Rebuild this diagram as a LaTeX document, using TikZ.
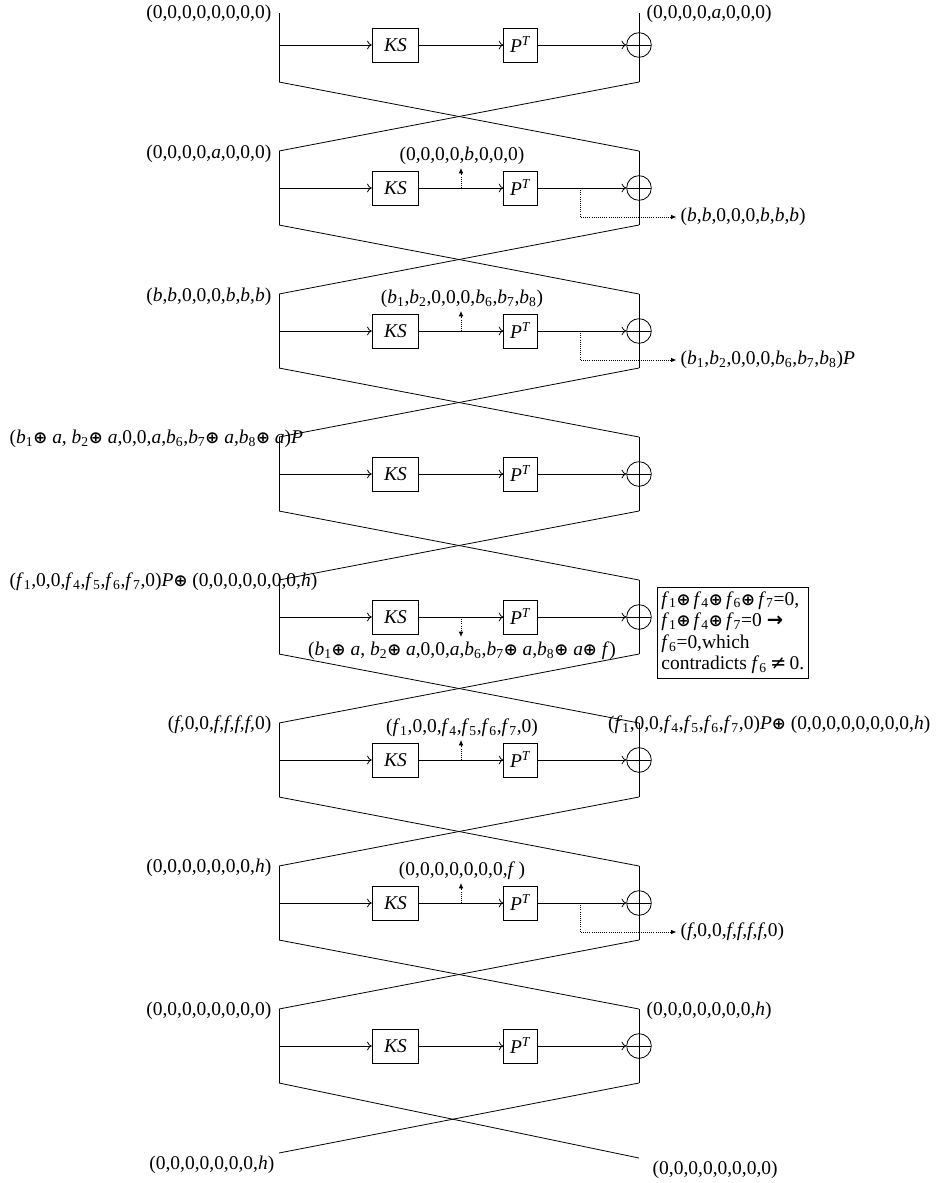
\documentclass[tikz,border=0pt]{standalone}
\usepackage{fontspec}
\setmainfont{Liberation Serif}
\newfontfamily\dvsfont{DejaVu Sans}
\usetikzlibrary{arrows.meta}

% italic variable with a subscript index
\newcommand\vsub[2]{\textit{#1}\textsubscript{#2}}
% italic variable
\newcommand\vi[1]{\textit{#1}}
% xor sign
\newcommand\xorop{{\dvsfont\bfseries\fontsize{12.5}{12.5}\selectfont ⊕}}

\begin{document}
\begin{tikzpicture}[x=0.75pt,y=-0.75pt,line width=0.6pt,
  every node/.style={font=\fontsize{14.6}{17}\selectfont},
  opbox/.style={draw,minimum height=25.5pt,inner sep=0pt},
  ksbox/.style={opbox,minimum width=35pt},
  ptbox/.style={opbox,minimum width=25pt},
  xorc/.style={draw,circle,minimum size=18.5pt,inner sep=0pt,
    path picture={\draw (path picture bounding box.west) -- (path picture bounding box.east);}},
  flow/.style={-{To[length=3.5pt,width=6.5pt]}},
  tap/.style={densely dotted,-{Latex[length=4pt,width=3.5pt]}},
  lbl/.style={inner sep=1pt}]
\useasboundingbox (0,0) rectangle (936,1183);

% eight rounds of the Feistel-like structure
\foreach \i in {1,...,8}{
  \pgfmathsetmacro\Y{45+143*(\i-1)}
  \pgfmathsetmacro\T{\i==1 ? 32 : 37}
  \coordinate (in\i) at (279,\Y);
  \coordinate (lt\i) at (279,\Y-\T);
  \coordinate (lb\i) at (279,\Y+37);
  \coordinate (rt\i) at (639,\Y-\T);
  \coordinate (rb\i) at (639,\Y+37);
  \node[ksbox] (ks\i) at (395.5,\Y) {\vi{KS}};
  \node[ptbox] (pt\i) at (520.5,\Y) {\vi{P}\textsuperscript{\vi{T}}};
  \node[xorc] (x\i) at (639,\Y) {};
  \draw (lt\i) -- (lb\i);
  \draw (rt\i) -- (rb\i);
  \draw[flow] (in\i) -- (ks\i);
  \draw[flow] (ks\i) -- (pt\i);
  \draw[flow] (pt\i) -- (x\i);
  \coordinate (tp\i) at (461,\Y);
  \coordinate (tu\i) at (461,\Y-20);
  \coordinate (td\i) at (461,\Y+20);
  \coordinate (tr\i) at (580,\Y);
}

% swaps between consecutive rounds
\foreach \i [evaluate=\i as \j using int(\i+1)] in {1,...,7}{
  \draw (lb\i) -- (rt\j);
  \draw (rb\i) -- (lt\j);
}
\coordinate (endL) at (279,1153);
\coordinate (endR) at (639,1158);
\draw (lb8) -- (endR);
\draw (rb8) -- (endL);

% probes on the round function
\foreach \i in {2,3,6,7}{ \draw[tap] (tp\i) -- (tu\i); }
\draw[tap] (tp5) -- (td5);

% differences entering each round
\node[lbl,anchor=east] (l1) at (273,14) {(0,0,0,0,0,0,0,0)};
\node[lbl,anchor=west] (r1) at (645,14) {(0,0,0,0,\vi{a},0,0,0)};
\node[lbl,anchor=east] (l2) at (273,154) {(0,0,0,0,\vi{a},0,0,0)};
\node[lbl,anchor=east] (l3) at (273,297) {(\vi{b},\vi{b},0,0,0,\vi{b},\vi{b},\vi{b})};
\node[lbl,anchor=west] (l4) at (8,439) {(\vsub{b}{1}\xorop\ \vi{a}, \vsub{b}{2}\xorop\ \vi{a},0,0,\vi{a},\vsub{b}{6},\vsub{b}{7}\xorop\ \vi{a},\vsub{b}{8}\xorop\ \vi{a})\vi{P}};
\node[lbl,anchor=west] (l5) at (8,582) {(\vsub{f}{1},0,0,\vsub{f}{4},\vsub{f}{5},\vsub{f}{6},\vsub{f}{7},0)\vi{P}\xorop\ (0,0,0,0,0,0,0,\vi{h})};
\node[lbl,anchor=east] (l6) at (273,725) {(\vi{f},0,0,\vi{f},\vi{f},\vi{f},\vi{f},0)};
\node[lbl,anchor=east] (r6) at (932,725) {(\vsub{f}{1},0,0,\vsub{f}{4},\vsub{f}{5},\vsub{f}{6},\vsub{f}{7},0)\vi{P}\xorop\ (0,0,0,0,0,0,0,0,\vi{h})};
\node[lbl,anchor=east] (l7) at (273,868) {(0,0,0,0,0,0,0,\vi{h})};
\node[lbl,anchor=east] (l8) at (273,1011) {(0,0,0,0,0,0,0,0)};
\node[lbl,anchor=west] (r8) at (645,1011) {(0,0,0,0,0,0,0,\vi{h})};
\node[lbl,anchor=east] (bl) at (276,1165) {(0,0,0,0,0,0,0,\vi{h})};
\node[lbl,anchor=west] (br) at (651,1170) {(0,0,0,0,0,0,0,0)};

% values seen inside the round function
\node[lbl] (m2) at (462,156) {(0,0,0,0,\vi{b},0,0,0)};
\node[lbl] (m3) at (462,299) {(\vsub{b}{1},\vsub{b}{2},0,0,0,\vsub{b}{6},\vsub{b}{7},\vsub{b}{8})};
\node[lbl] (m5) at (462,651) {(\vsub{b}{1}\xorop\ \vi{a}, \vsub{b}{2}\xorop\ \vi{a},0,0,\vi{a},\vsub{b}{6},\vsub{b}{7}\xorop\ \vi{a},\vsub{b}{8}\xorop\ \vi{a}\xorop\ \vi{f})};
\node[lbl] (m6) at (462,728) {(\vsub{f}{1},0,0,\vsub{f}{4},\vsub{f}{5},\vsub{f}{6},\vsub{f}{7},0)};
\node[lbl] (m7) at (462,871) {(0,0,0,0,0,0,0,\vi{f}\,)};

% outputs of the permutation layer
\node[lbl,anchor=west] (o2) at (679,217) {(\vi{b},\vi{b},0,0,0,\vi{b},\vi{b},\vi{b})};
\node[lbl,anchor=west] (o3) at (679,360) {(\vsub{b}{1},\vsub{b}{2},0,0,0,\vsub{b}{6},\vsub{b}{7},\vsub{b}{8})\vi{P}};
\node[lbl,anchor=west] (o7) at (679,932) {(\vi{f},0,0,\vi{f},\vi{f},\vi{f},\vi{f},0)};
\foreach \i in {2,3,7}{ \draw[tap] (tr\i) |- ([xshift=-2pt]o\i.west); }

% the contradiction
\node[draw,anchor=north west,align=left,inner sep=3pt,font=\fontsize{14.6}{16.2}\selectfont] (note) at (657,587)
  {\vsub{f}{1}\xorop\,\vsub{f}{4}\xorop\,\vsub{f}{6}\xorop\,\vsub{f}{7}=0,\\
   \vsub{f}{1}\xorop\,\vsub{f}{4}\xorop\,\vsub{f}{7}=0 {\dvsfont\bfseries →}\\
   \vsub{f}{6}=0,which\\
   contradicts \vsub{f}{6}\,{\dvsfont ≠}\,0.};
\end{tikzpicture}
\end{document}
